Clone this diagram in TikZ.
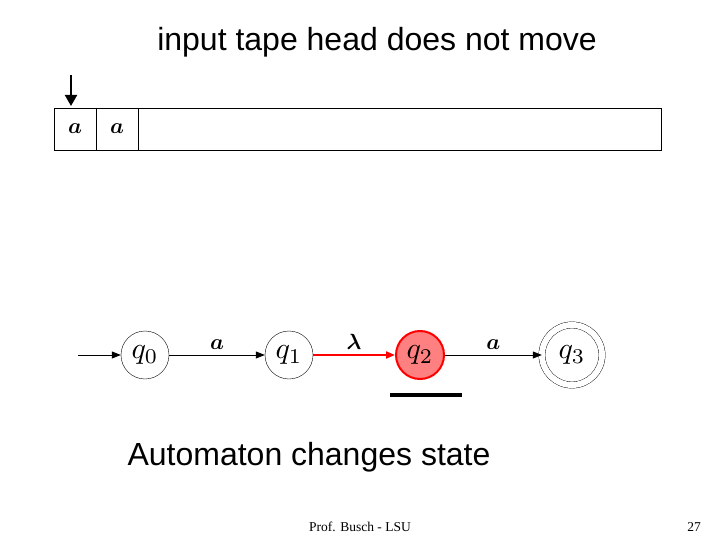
\documentclass[tikz,border=0pt]{standalone}
\usepackage{graphicx}
\usepackage{fontspec}
\setmainfont{Liberation Sans}
\newfontfamily\timesfont{Liberation Serif}
\usetikzlibrary{arrows.meta}
\newcommand{\statelab}[1]{\scalebox{3}{$#1$}}
\newcommand{\symlab}[1]{\scalebox{2.2}{$\boldsymbol{#1}$}}
\usepackage{amsmath}
\tikzset{
  state/.style={draw, circle, minimum size=48pt, inner sep=0pt},
  accept/.style={state, double=white, double distance=6pt, minimum size=60pt},
  trans/.style={-{Triangle[length=9pt,width=7pt]}, line width=0.8pt},
  sym/.style={above, inner sep=5pt}
}
\begin{document}
\begin{tikzpicture}[x=1pt, y=-1pt]
    \useasboundingbox (0,0) rectangle (720,540);
    % title
    \node[font=\fontsize{32}{32}\selectfont] (title) at (377,42) {input tape head does not move};
    % tape
    \draw (54,108) rectangle (661,150);
    \draw (96,108) -- (96,150) (138,108) -- (138,150);
    \node (c1) at (75,129) {\symlab{a}};
    \node (c2) at (117,129) {\symlab{a}};
    \coordinate (headtop) at (71,75);
    \coordinate (headbot) at (71,106);
    \draw[-{Triangle[length=11pt,width=12pt]}, line width=2pt] (headtop) -- (headbot);
    % states
    \node[state] (q0) at (145,355) {\statelab{q_0}};
    \node[state] (q1) at (289,355) {\statelab{q_1}};
    \node[state, fill=red!50, draw=red, line width=2pt] (q2) at (420,355) {\statelab{q_2}};
    \node[accept] (q3) at (572,355) {\statelab{q_3}};
    \coordinate (start) at (78,355);
    \draw[trans] (start) -- (q0);
    \draw[trans] (q0) -- node[sym] {\symlab{a}} (q1);
    \draw[trans, red, line width=2pt] (q1) -- node[sym, black] {\symlab{\lambda}} (q2);
    \draw[trans] (q2) -- node[sym] {\symlab{a}} (q3);
    % head marker
    \coordinate (barl) at (390,395);
    \coordinate (barr) at (462,395);
    \draw[line width=4pt] (barl) -- (barr);
    \node[font=\fontsize{32}{32}\selectfont] (caption) at (309,457) {Automaton changes state};
    \node[font=\timesfont\fontsize{13.5}{13.5}\selectfont] (foot) at (360,527) {Prof. Busch - LSU};
    \node[font=\timesfont\fontsize{13.5}{13.5}\selectfont] (page) at (694,527) {27};
\end{tikzpicture}
\end{document}
